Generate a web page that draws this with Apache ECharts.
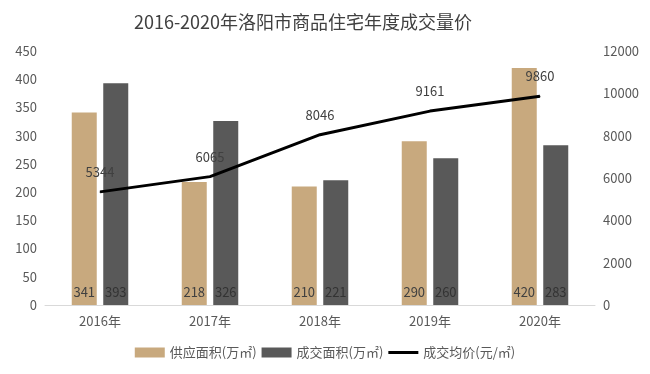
<!DOCTYPE html>
<html><head><meta charset="utf-8">
<script src="https://cdn.jsdelivr.net/npm/echarts@6/dist/echarts.min.js"></script>
<style>html,body{margin:0;padding:0;background:#fff}#c{width:650px;height:374px}</style>
</head><body><div id="c"></div>
<script>
const titleText = '2016-2020年洛阳市商品住宅年度成交量价';
const categories = ['2016年','2017年','2018年','2019年','2020年'];
const supplyArea = [341, 218, 210, 290, 420];
const dealArea = [393, 326, 221, 260, 283];
const avgPrice = [5344, 6065, 8046, 9161, 9860];
const seriesNames = ['供应面积(万㎡)', '成交面积(万㎡)', '成交均价(元/㎡)'];

const font = '"Noto Sans CJK SC", "Noto Sans", sans-serif';
const chart = echarts.init(document.getElementById('c'));
chart.setOption({
  animation: false,
  textStyle: {fontFamily: font},
  title: {text: titleText, left: 298, top: 8, textAlign: 'center',
    textStyle: {fontSize: 18, fontWeight: 'normal', color: '#404040', fontFamily: font}},
  legend: {bottom: 10, left: 'center', itemWidth: 30, itemHeight: 10, itemGap: 5,
    textStyle: {fontSize: 13, color: '#595959'},
    data: [{name: seriesNames[0], icon: 'rect'}, {name: seriesNames[1], icon: 'rect'},
      {name: seriesNames[2], icon: 'path://M0,0H30V3H0Z'}]},
  grid: {left: 45, right: 55, top: 51, bottom: 69, containLabel: false},
  xAxis: {type: 'category', data: categories,
    axisLine: {lineStyle: {color: '#d9d9d9'}}, axisTick: {show: false},
    axisLabel: {fontSize: 13, color: '#595959', margin: 10}},
  yAxis: [
    {type: 'value', min: 0, max: 450, interval: 50, splitLine: {show: false},
      axisLabel: {fontSize: 13, color: '#595959', margin: 8}},
    {type: 'value', min: 0, max: 12000, interval: 2000, splitLine: {show: false},
      axisLabel: {fontSize: 13, color: '#595959', margin: 8, formatter: v => String(v)}}
  ],
  series: [
    {name: seriesNames[0], type: 'bar', data: supplyArea, barWidth: 25, barGap: '26%',
      itemStyle: {color: '#c8a97e'},
      label: {show: true, position: 'insideBottom', distance: 6, fontSize: 13, color: '#404040'}},
    {name: seriesNames[1], type: 'bar', data: dealArea, barWidth: 25,
      itemStyle: {color: '#595959'},
      label: {show: true, position: 'insideBottom', distance: 6, fontSize: 13, color: '#333333'}},
    {name: seriesNames[2], type: 'line', yAxisIndex: 1, data: avgPrice, showSymbol: true, symbol: 'circle', symbolSize: 1,
      lineStyle: {color: '#000', width: 3}, itemStyle: {color: '#000'}, z: 5,
      label: {show: true, position: 'top', distance: 13, fontSize: 13, color: '#404040'}}
  ]
});
</script></body></html>
